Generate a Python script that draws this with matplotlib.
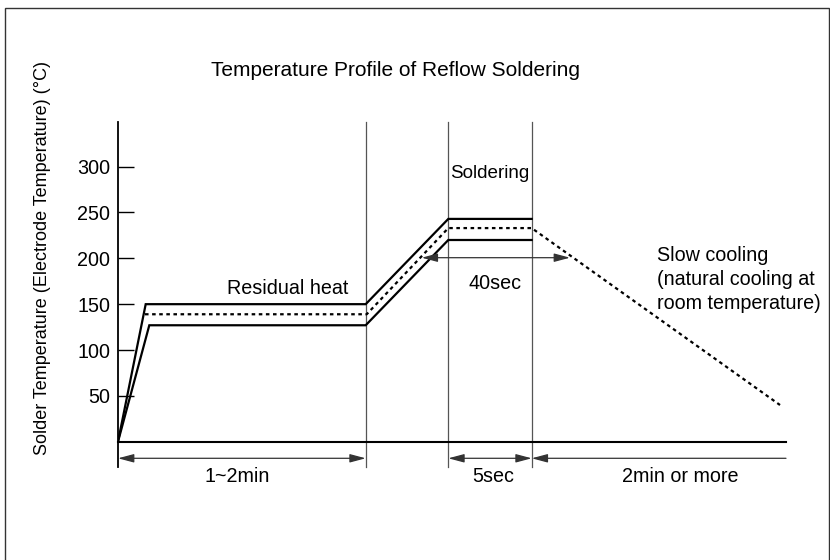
import matplotlib.pyplot as plt
from matplotlib.patches import Rectangle

plt.rcParams['font.family'] = ['Liberation Sans', 'DejaVu Sans']

# schematic time axis (arbitrary units) and temperatures in degC
x_upper = [0, 27.7, 247.7, 330.3, 413.7]
t_upper = [0, 150, 150, 243, 243]
x_mid = [27, 248.7, 330.3, 413.7, 662]
t_mid = [139, 139, 233, 233, 40]
x_lower = [0, 31.3, 247.7, 330.3, 413.7]
t_lower = [0, 127, 127, 220, 220]

phase_edges = [247.7, 330.3, 413.7]
x_end = 668
yticks = [50, 100, 150, 200, 250, 300]

fs = 14.2
W, H = 830, 560
fig = plt.figure(figsize=(W / 100, H / 100), dpi=100)
ax = fig.add_axes([118 / W, (H - 441.7) / H, (786 - 118) / W, (441.7 - 122) / H])
ax.set_xlim(0, x_end)
ax.set_ylim(0, 348.7)
for s in ax.spines.values():
    s.set_visible(False)
ax.set_xticks([])
ax.set_yticks(yticks)
ax.tick_params(axis='y', direction='in', length=11.5, width=1, pad=5.5,
               labelsize=fs, colors='black')

# axis, phase separators, baseline
ax.plot([0, 0], [-27.3, 348.7], color='black', lw=1.3, clip_on=False)
for xe in phase_edges:
    ax.plot([xe, xe], [-27.3, 348.7], color='#555555', lw=0.9, clip_on=False)
ax.plot([0, x_end], [0, 0], color='black', lw=1.5, clip_on=False)

# profile
ax.plot(x_upper, t_upper, color='black', lw=1.6, solid_joinstyle='miter')
ax.plot(x_lower, t_lower, color='black', lw=1.6, solid_joinstyle='miter')
ax.plot(x_mid, t_mid, color='black', lw=1.6, linestyle=(0, (1.6, 1.6)))

head = 'head_length=0.6,head_width=0.16'
ap = dict(arrowstyle='<|-|>,' + head, color='#333333', lw=0.9, mutation_scale=16,
          shrinkA=0, shrinkB=0)
ap1 = dict(arrowstyle='-|>,' + head, color='#333333', lw=0.9, mutation_scale=16,
           shrinkA=0, shrinkB=0)
ya = -18.1
ax.annotate('', xy=(0, ya), xytext=(phase_edges[0], ya), arrowprops=ap, annotation_clip=False)
ax.annotate('', xy=(phase_edges[1], ya), xytext=(phase_edges[2], ya), arrowprops=ap, annotation_clip=False)
ax.annotate('', xy=(phase_edges[2], ya), xytext=(x_end, ya), arrowprops=ap1, annotation_clip=False)
ax.annotate('', xy=(303.7, 200.7), xytext=(452, 200.7), arrowprops=ap, annotation_clip=False)

yl = -38.5
ax.text(118.7, yl, '1~2min', ha='center', va='center', fontsize=fs, clip_on=False)
ax.text(374.7, yl, '5sec', ha='center', va='center', fontsize=fs, clip_on=False)
ax.text(562, yl, '2min or more', ha='center', va='center', fontsize=fs, clip_on=False)
ax.text(377, 172.8, '40sec', ha='center', va='center', fontsize=fs)
ax.text(372, 292.8, 'Soldering', ha='center', va='center', fontsize=fs - 0.6)
ax.text(170, 167.3, 'Residual heat', ha='center', va='center', fontsize=fs)
ax.text(538.7, 213.5, 'Slow cooling\n(natural cooling at\nroom temperature)',
        ha='left', va='top', fontsize=fs, linespacing=1.33, clip_on=False)

fig.text(395.5 / W, 1 - 70 / H, 'Temperature Profile of Reflow Soldering',
         ha='center', va='center', fontsize=15)
fig.text(43 / W, 1 - 258 / H, 'Solder Temperature (Electrode Temperature) (°C)',
         ha='center', va='center', rotation=90, fontsize=13)

fig.patches.append(Rectangle((4.5 / W, -0.1), 824 / W, 1.1 - 7.5 / H,
                             transform=fig.transFigure, fill=False,
                             edgecolor='#333333', lw=1.0))

fig.savefig('out.png', dpi=100)
